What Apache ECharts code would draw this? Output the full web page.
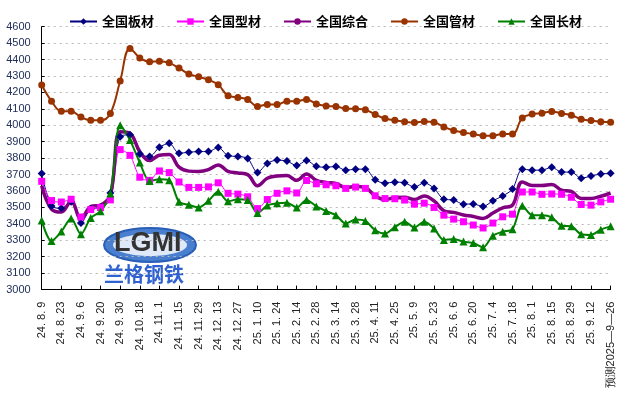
<!DOCTYPE html>
<html><head><meta charset="utf-8">
<script src="https://cdn.jsdelivr.net/npm/echarts@6/dist/echarts.min.js"></script>
<style>html,body{margin:0;padding:0;background:#fff}#c{width:625px;height:396px}</style>
</head><body><div id="c"></div>
<script>
var categories = ["24.8.9","24.8.16","24.8.23","24.8.30","24.9.6","24.9.13","24.9.20","24.9.27","24.9.30","24.10.11",
"24.10.18","24.10.25","24.11.1","24.11.8","24.11.15","24.11.22","24.11.29","24.12.6","24.12.13","24.12.20",
"24.12.27","25.1.3","25.1.10","25.1.17","25.1.24","25.2.7","25.2.14","25.2.21","25.2.28","25.3.7",
"25.3.14","25.3.21","25.3.28","25.4.3","25.4.11","25.4.18","25.4.25","25.4.30","25.5.9","25.5.16",
"25.5.23","25.5.30","25.6.6","25.6.13","25.6.20","25.6.27","25.7.4","25.7.11","25.7.18","25.7.25",
"25.8.1","25.8.8","25.8.15","25.8.22","25.8.29","25.9.5","25.9.12","25.9.19","预测2025—9—26"];

var seriesNames = ["全国板材","全国型材","全国综合","全国管材","全国长材"];

var plate = [3706,3509,3495,3535,3405,3490,3500,3588,3931,3942,3826,3810,3866,3890,
3830,3836,3840,3840,3865,3815,3810,3798,3713,3768,3788,3782,3755,3786,3750,
3745,3749,3726,3733,3733,3668,3648,3654,3650,3624,3650,3616,3550,3545,3520,3521,3506,3541,3570,3612,3733,3727,3727,3745,3715,3715,3678,3691,3704,3708];

var section = [3659,3542,3533,3550,3442,3487,3499,3546,3852,3817,3684,3665,3722,3712,
3655,3622,3622,3625,3650,3586,3581,3565,3493,3548,3586,3601,3588,3664,3644,
3638,3632,3616,3624,3616,3571,3554,3553,3545,3520,3526,3500,3453,3429,3413,3393,3375,3405,3443,3459,3594,3594,3580,3582,3580,3562,3518,3514,3534,3550];

var composite = [3632,3490,3472,3538,3432,3505,3515,3575,3960,3950,3840,3785,3818,3822,
3745,3721,3719,3730,3758,3719,3710,3700,3632,3678,3691,3694,3665,3704,3665,
3652,3646,3621,3628,3620,3570,3548,3560,3562,3548,3570,3540,3480,3470,3454,3445,3433,3466,3497,3514,3655,3634,3634,3640,3605,3597,3555,3554,3568,3588];

var pipe = [4245,4147,4085,4085,4050,4030,4030,4072,4270,4468,4410,4386,4390,4380,4348,4312,4295,4277,4247,4180,
4169,4157,4115,4126,4126,4147,4147,4157,4130,4118,4114,4102,4100,4094,4066,4041,4031,4022,4017,4023,
4019,3990,3968,3956,3947,3937,3937,3947,3947,4045,4068,4074,4084,4072,4061,4037,4029,4021,4019];

var longP = [3420,3296,3353,3432,3337,3436,3477,3585,4000,3911,3773,3661,3671,3665,
3534,3516,3500,3540,3595,3537,3550,3545,3466,3512,3525,3529,3500,3546,3506,
3478,3453,3402,3427,3418,3361,3341,3380,3413,3378,3413,3372,3302,3308,3292,3284,3258,3328,3352,3368,3510,3453,3453,3440,3389,3385,3337,3333,3365,3385];

var yTicks = {min:3000, max:4600, step:100};

var chart = echarts.init(document.getElementById('c'), null, {renderer:'canvas'});
function mk(name, data, color, symbol, size, width, smooth){
  return {name:name, type:'line', data:data, smooth:smooth, symbol:symbol, symbolSize:size,
    showSymbol: symbol !== 'none', showAllSymbol: true,
    lineStyle:{color:color, width:width}, itemStyle:{color:color}, emphasis:{disabled:true}};
}
chart.setOption({
  animation:false,
  backgroundColor:'#fff',
  legend:{left:64, top:10, itemWidth:27, itemHeight:8, itemGap:22,
    textStyle:{fontFamily:'Noto Sans CJK SC', fontWeight:'bold', fontSize:13, color:'#000'},
    data:seriesNames},
  grid:{left:41.7, right:14.4, top:26.7, bottom:106.4, containLabel:false},
  graphic:[
    {type:'ellipse', shape:{cx:150, cy:245, rx:46, ry:17}, style:{fill:'#4a7fd0', stroke:'#2a5fb8', lineWidth:2}, z:-1, silent:true},
    {type:'ellipse', shape:{cx:150, cy:245, rx:37, ry:11}, style:{fill:'#dfe9f8'}, z:-1, silent:true},
    {type:'text', left:114, top:230, style:{text:'LGMI', fontFamily:'Liberation Sans', fontWeight:'bold', fontSize:27, fill:'#333'}, z:-1, silent:true},
    {type:'text', left:104, top:264, style:{text:'兰格钢铁', fontFamily:'Noto Sans CJK SC', fontWeight:'bold', fontSize:20, fill:'#2f62d0'}, z:-1, silent:true}
  ],
  xAxis:{type:'category', data:categories, boundaryGap:false,
    axisLine:{lineStyle:{color:'#000', width:1}},
    axisTick:{inside:true, length:4, interval:1, lineStyle:{color:'#000'}},
    axisLabel:{interval:1, rotate:90, margin:12, fontFamily:'Liberation Sans', fontSize:11, color:'#222',
      formatter:function(v){ return v.indexOf('预测')===0 ? v : v.split('.').join('. '); }},
    splitLine:{show:false}},
  yAxis:{type:'value', min:yTicks.min, max:yTicks.max, interval:yTicks.step,
    axisLine:{show:true, lineStyle:{color:'#000', width:1}},
    axisTick:{show:true, inside:true, length:3, lineStyle:{color:'#000'}},
    axisLabel:{fontFamily:'Liberation Sans', fontSize:11, color:'#22305a', margin:11,
      formatter:function(v){ return String(v); }},
    splitLine:{lineStyle:{color:'#b8b8b8', type:[2,4], width:1}}},
  series:[
    mk(seriesNames[0], plate, '#000080', 'diamond', 8, 1, 0.3),
    mk(seriesNames[1], section, '#ff00ff', 'rect', 7, 1, 0.3),
    mk(seriesNames[2], composite, '#800080', 'none', 0, 3.5, 0.4),
    mk(seriesNames[3], pipe, '#993300', 'circle', 7, 2, 0.4),
    mk(seriesNames[4], longP, '#008000', 'triangle', 8, 2, 0.3)
  ]
});
</script></body></html>
